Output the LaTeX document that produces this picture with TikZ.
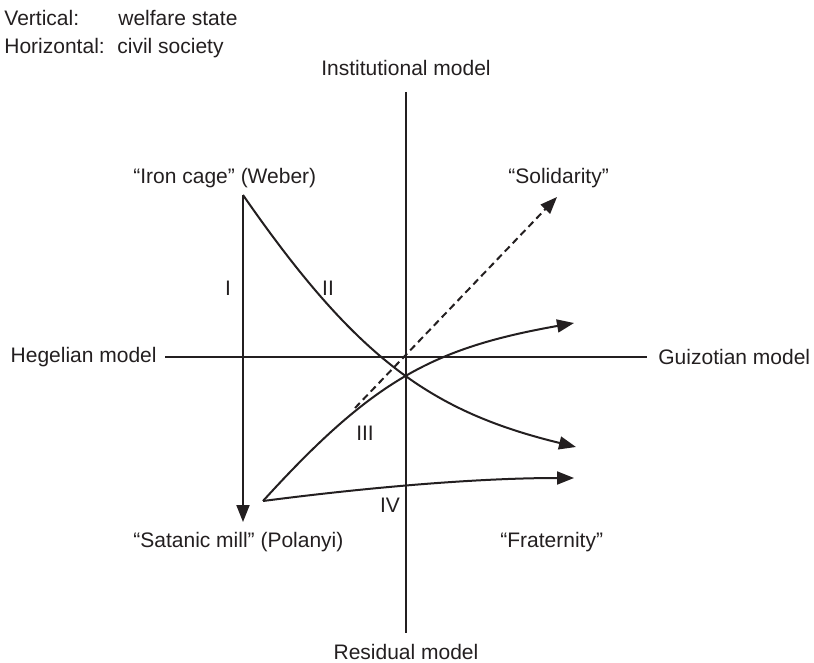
\documentclass[tikz,border=0pt]{standalone}
\usepackage{fontspec}
\setmainfont{Liberation Sans}
\usepackage{xcolor}
\usetikzlibrary{arrows.meta,positioning}
\definecolor{inkx}{HTML}{231F20}
\tikzset{
  lbl/.style={font=\fontsize{10.5}{12.6}\selectfont,text=inkx,inner sep=0pt},
  ax/.style={draw=inkx,line width=1pt},
  ar/.style={-{Triangle[length=8.5pt,width=6.5pt]},line width=1pt,draw=inkx},
  ard/.style={ar,dash pattern=on 3.5pt off 2.2pt}
}

\begin{document}
\begin{tikzpicture}[x=0.5pt,y=-0.5pt]
\useasboundingbox (0,0) rectangle (814,663);
% legend
\node[lbl,anchor=base west] (vkey) at (4,26) {Vertical:};
\node[lbl,anchor=base west] (vval) at (118,26) {welfare state};
\node[lbl,anchor=base west] (hkey) at (4,54) {Horizontal:};
\node[lbl,anchor=base west] (hval) at (117,54) {civil society};
% axes
\coordinate (axT) at (406,92);
\coordinate (axB) at (406,633);
\coordinate (axW) at (165,357);
\coordinate (axE) at (647,357);
\draw[ax] (axT) -- (axB);
\draw[ax] (axW) -- (axE);
\node[lbl,above=8pt of axT] (inst) {Institutional model};
\node[lbl,below=5.5pt of axB] (resid) {Residual model};
\node[lbl,left=4pt of axW] (hegel) {Hegelian model};
\node[lbl,right=5.5pt of axE] (guizot) {Guizotian model};
% poles
\node[lbl,anchor=base west] (iron) at (133,184) {“Iron cage” (Weber)};
\node[lbl,anchor=base west] (solid) at (508,184) {“Solidarity”};
\node[lbl,anchor=base west] (satan) at (133,547) {“Satanic mill” (Polanyi)};
\node[lbl,anchor=base west] (frat) at (500,547) {“Fraternity”};
% paths
\coordinate (weber) at (243,195);
\coordinate (polanyi) at (243,522);
\coordinate (mill) at (263,501);
\coordinate (dashS) at (355,408);
\coordinate (tipS) at (557,197);
\coordinate (tipII) at (576,447);
\coordinate (tipIII) at (574,323);
\coordinate (tipIV) at (574,478);
\draw[ar] (weber) -- (polanyi);
\draw[ar] (weber) .. controls (358,361) and (433,412) .. (tipII);
\draw[ar] (mill) .. controls (373,380) and (433,348) .. (tipIII);
\draw[ar] (mill) .. controls (363,488) and (474,478) .. (tipIV);
\draw[ard] (dashS) -- (tipS);
% path labels
\node[lbl] (pI) at (228,288) {I};
\node[lbl] (pII) at (328,288) {II};
\node[lbl] (pIII) at (365,433) {III};
\node[lbl] (pIV) at (390,505) {IV};
\end{tikzpicture}
\end{document}
